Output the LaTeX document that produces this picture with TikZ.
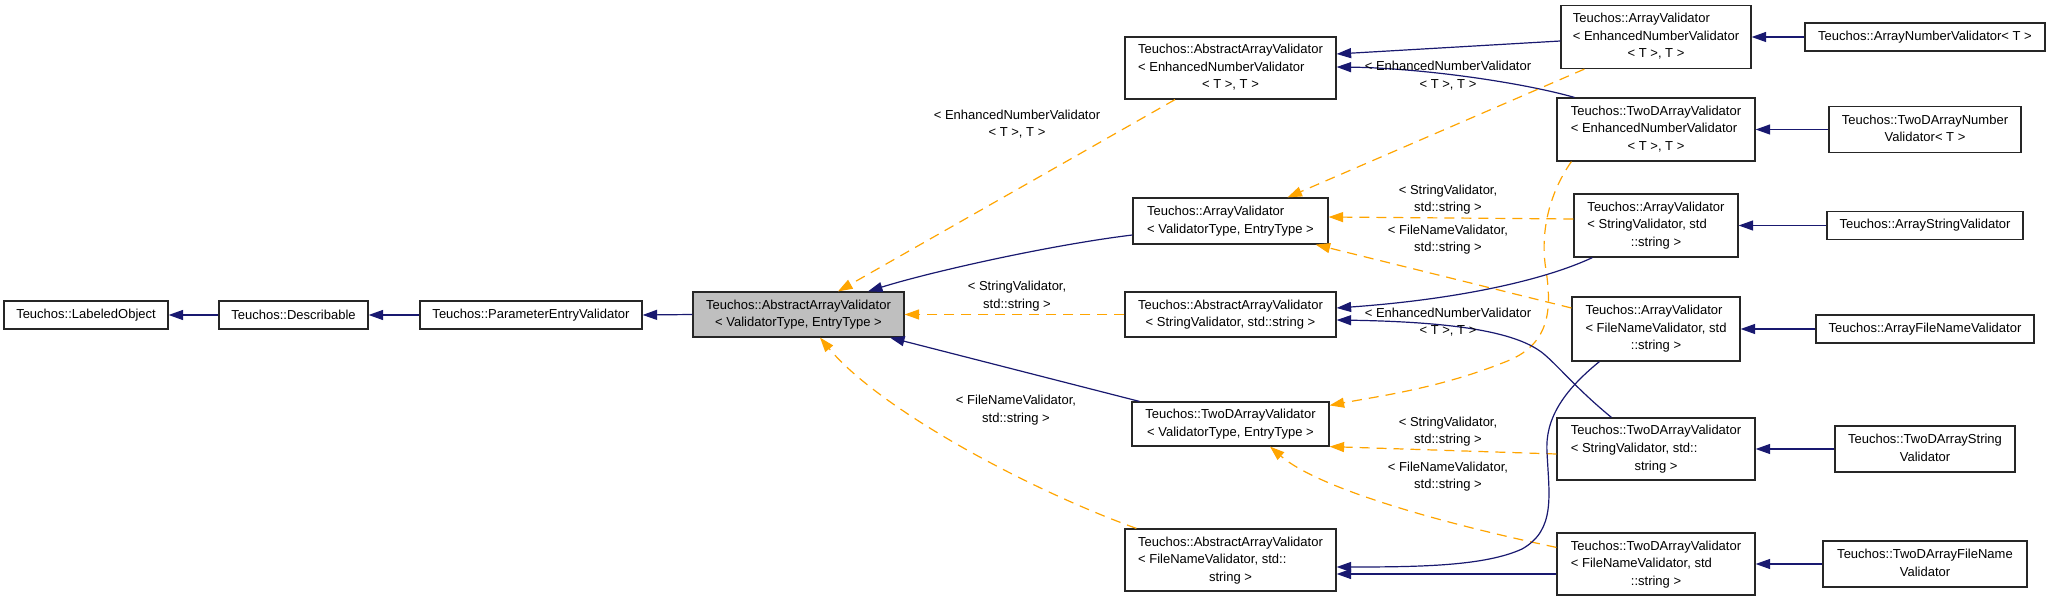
\documentclass[tikz,border=0pt]{standalone}
\usepackage{fontspec}
\setmainfont{Liberation Sans}
\usetikzlibrary{arrows.meta,calc}
\definecolor{navy}{HTML}{191970}
\definecolor{dorange}{HTML}{FFA500}
\definecolor{gfill}{HTML}{BFBFBF}
\newcommand\dlab[2]{\begin{tabular}{@{}l@{}}#1\\\multicolumn{1}{@{}c@{}}{#2}\end{tabular}}
\begin{document}
\begin{tikzpicture}[x=1pt,y=-1pt,
  font=\fontsize{13}{17.5}\selectfont,
  box/.style 2 args={draw=black!85, line width=1.2pt, fill=white, inner sep=0pt,
    minimum width=#1, minimum height=#2},
  inh/.style={navy, line width=1.2pt, -{Triangle[length=14.5pt,width=10pt]}},
  tmpl/.style={dorange, line width=1.2pt, dash pattern=on 10pt off 7pt,
    -{Triangle[length=14.5pt,width=10pt]}},
  elab/.style={inner sep=0pt, align=center}]
\useasboundingbox[fill=white] (0,0) rectangle (2051,601);

% left chain
\node[box={164pt}{28pt}] (lo) at (86,315) {Teuchos::LabeledObject};
\node[box={149pt}{28pt}] (de) at (293.5,315) {Teuchos::Describable};
\node[box={222pt}{28pt}] (pev) at (531,315) {Teuchos::ParameterEntryValidator};
\node[box={211pt}{45pt}, fill=gfill] (g) at (798.5,314.5)
  {\dlab{Teuchos::AbstractArrayValidator}{< ValidatorType, EntryType >}};

% middle column
\node[box={211pt}{62pt}] (aenh) at (1230.5,68)
  {\dlab{Teuchos::AbstractArrayValidator\\< EnhancedNumberValidator}{< T >, T >}};
\node[box={195pt}{46pt}] (avt) at (1230.5,221)
  {\dlab{Teuchos::ArrayValidator}{< ValidatorType, EntryType >}};
\node[box={211pt}{45pt}] (astr) at (1230.5,314.5)
  {\dlab{Teuchos::AbstractArrayValidator}{< StringValidator, std::string >}};
\node[box={197pt}{44pt}] (tvt) at (1230.5,424)
  {\dlab{Teuchos::TwoDArrayValidator}{< ValidatorType, EntryType >}};
\node[box={211pt}{62pt}] (afn) at (1230.5,560)
  {\dlab{Teuchos::AbstractArrayValidator\\< FileNameValidator, std::}{string >}};

% right-middle column
\node[box={190pt}{63pt}] (avenh) at (1656,37)
  {\dlab{Teuchos::ArrayValidator\\< EnhancedNumberValidator}{< T >, T >}};
\node[box={198pt}{63pt}] (tenh) at (1656,129.5)
  {\dlab{Teuchos::TwoDArrayValidator\\< EnhancedNumberValidator}{< T >, T >}};
\node[box={164pt}{63pt}] (avstr) at (1656,225.5)
  {\dlab{Teuchos::ArrayValidator\\< StringValidator, std}{::string >}};
\node[box={168pt}{64pt}] (avfn) at (1656,329)
  {\dlab{Teuchos::ArrayValidator\\< FileNameValidator, std}{::string >}};
\node[box={198pt}{62pt}] (tstr) at (1656,449)
  {\dlab{Teuchos::TwoDArrayValidator\\< StringValidator, std::}{string >}};
\node[box={198pt}{62pt}] (tfn) at (1656,564)
  {\dlab{Teuchos::TwoDArrayValidator\\< FileNameValidator, std}{::string >}};

% right column
\node[box={240pt}{28pt}] (anum) at (1925,37) {Teuchos::ArrayNumberValidator< T >};
\node[box={192pt}{46pt}] (tnum) at (1925,129.5) {\dlab{Teuchos::TwoDArrayNumber}{Validator< T >}};
\node[box={196pt}{28pt}] (as) at (1925,225.5) {Teuchos::ArrayStringValidator};
\node[box={218pt}{28pt}] (afnv) at (1925,329) {Teuchos::ArrayFileNameValidator};
\node[box={180pt}{46pt}] (ts) at (1925,449) {\dlab{Teuchos::TwoDArrayString}{Validator}};
\node[box={204pt}{46pt}] (tfnv) at (1925,564) {\dlab{Teuchos::TwoDArrayFileName}{Validator}};

% left chain edges
\draw[inh] (de.west) -- (lo.east);
\draw[inh] (pev.west) -- (de.east);
\draw[inh] (g.west) -- (pev.east);

% edges into gray node
\draw[tmpl] ($(aenh.south)+(-55.5,0)$) -- ($(g.north)+(39.5,0)$);
\draw[inh] ($(avt.west)+(0,14)$) .. controls (1050,245) and (930,272) .. ($(g.north)+(69.5,0)$);
\draw[tmpl] (astr.west) -- (g.east);
\draw[inh] ($(tvt.north west)+(8,0)$) -- ($(g.south)+(91.5,0)$);
\draw[tmpl] ($(afn.north west)+(12,0)$) .. controls (1030,490) and (880,410) .. ($(g.south)+(21.5,0)$);

% right-side edges
\draw[inh] ($(avenh.west)+(0,4)$) -- ($(aenh.east)+(0,-14)$);
\draw[inh] ($(tenh.north west)+(18,0)$) .. controls (1520,82) and (1420,68) .. ($(aenh.east)+(0,-1)$);
\draw[tmpl] ($(avenh.south west)+(24,0)$) -- ($(avt.north)+(57,0)$);
\draw[tmpl] ($(tenh.south west)+(15,0)$) .. controls (1548,195) and (1540,235) .. (1546,270)
  .. controls (1552,310) and (1550,345) .. (1505,362)
  .. controls (1440,388) and (1380,396) .. ($(tvt.north east)+(0,4)$);
\draw[tmpl] ($(avstr.west)+(0,-6.5)$) -- ($(avt.east)+(0,-4)$);
\draw[tmpl] ($(avfn.west)+(0,-21)$) -- ($(avt.south east)+(-13,0)$);
\draw[inh] ($(avstr.south west)+(19,0)$) .. controls (1540,282) and (1450,300) .. ($(astr.east)+(0,-6.5)$);
\draw[inh] ($(tstr.north west)+(55,0)$) .. controls (1578,390) and (1560,368) .. (1545,355)
  .. controls (1520,333) and (1460,322) .. ($(astr.east)+(0,5.5)$);
\draw[tmpl] ($(tstr.west)+(0,5)$) -- (tvt.south east);
\draw[tmpl] ($(tfn.north west)+(0,15)$) .. controls (1450,525) and (1320,490) .. ($(tvt.south)+(39.5,0)$);
\draw[inh] ($(avfn.south west)+(28,0)$) .. controls (1562,392) and (1545,420) .. (1547,452)
  .. controls (1549,495) and (1556,530) .. (1522,549)
  .. controls (1485,566) and (1420,567) .. ($(afn.east)+(0,7)$);
\draw[inh] ($(tfn.west)+(0,10)$) -- ($(afn.east)+(0,14)$);

% right column edges
\draw[inh] (anum.west) -- (avenh.east);
\draw[inh] (tnum.west) -- (tenh.east);
\draw[inh] (as.west) -- (avstr.east);
\draw[inh] (afnv.west) -- (avfn.east);
\draw[inh] (ts.west) -- (tstr.east);
\draw[inh] (tfnv.west) -- (tfn.east);

% edge labels
\node[elab] (l1) at (1017,124) {< EnhancedNumberValidator\\< T >, T >};
\node[elab] (l2) at (1017,296) {< StringValidator,\\std::string >};
\node[elab] (l3) at (1016,410) {< FileNameValidator,\\std::string >};
\node[elab] (r1) at (1448,75.5) {< EnhancedNumberValidator\\< T >, T >};
\node[elab] (r2) at (1448,199.5) {< StringValidator,\\std::string >};
\node[elab] (r3) at (1448,239.5) {< FileNameValidator,\\std::string >};
\node[elab] (r4) at (1448,322) {< EnhancedNumberValidator\\< T >, T >};
\node[elab] (r5) at (1448,431.5) {< StringValidator,\\std::string >};
\node[elab] (r6) at (1448,476.5) {< FileNameValidator,\\std::string >};
\end{tikzpicture}
\end{document}
